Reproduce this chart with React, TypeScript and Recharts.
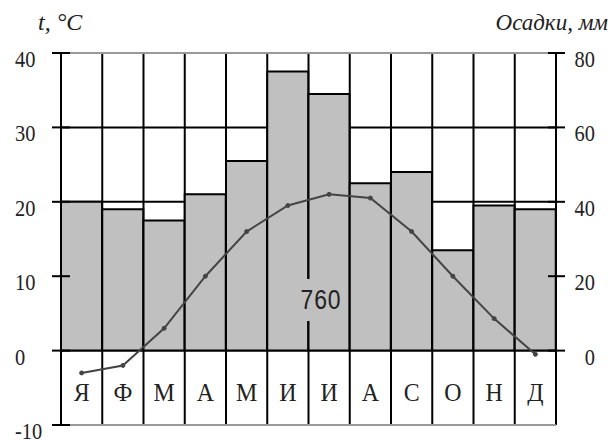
import React from 'react';
import { ComposedChart, Bar, Line, XAxis, YAxis, CartesianGrid, ReferenceLine } from 'recharts';

const months = ['Я', 'Ф', 'М', 'А', 'М', 'И', 'И', 'А', 'С', 'О', 'Н', 'Д'];
const precipitation = [40, 38, 35, 42, 51, 75, 69, 45, 48, 27, 39, 38];
const temperature = [-3, -2, 3, 10, 16, 19.5, 21, 20.5, 16, 10, 4.3, -0.5];
const tempTicks = [-10, 0, 10, 20, 30, 40];
const precipTicks = [0, 20, 40, 60, 80];
const annualTotal = '760';
const tempTitle = 't, °C';
const precipTitle = 'Осадки, мм';

const data = months.map((m, i) => ({
  id: i,
  month: m,
  precip: precipitation[i],
  temp: temperature[i],
}));

const serif = "'Liberation Serif', 'Times New Roman', serif";

// vertical grid lines on month boundaries, derived from the plot area
const monthBoundaries = (props: any) => {
  const off = props.offset;
  const n = months.length;
  const out: number[] = [];
  for (let i = 0; i <= n; i++) out.push(off.left + (off.width * i) / n);
  return out;
};

const LeftTick = (props: any) => {
  const { x, y, payload } = props;
  return (
    <g>
      <line x1={x - 9} x2={x + 9} y1={y} y2={y} stroke="#000" strokeWidth={2} />
      <g transform={`translate(${x - 46},${y + 14}) scale(0.85,1)`}>
        <text x={0} y={0} textAnchor="start" fontFamily={serif} fontSize={24} fill="#222">
          {payload.value}
        </text>
      </g>
    </g>
  );
};

const RightTick = (props: any) => {
  const { x, y, payload } = props;
  return (
    <g>
      <line x1={x - 8} x2={x + 9} y1={y} y2={y} stroke="#000" strokeWidth={2} />
      <g transform={`translate(${x + 39},${y + 14}) scale(0.85,1)`}>
        <text x={0} y={0} textAnchor="end" fontFamily={serif} fontSize={24} fill="#222">
          {payload.value}
        </text>
      </g>
    </g>
  );
};

const MonthTick = (props: any) => {
  const { x, y, payload } = props;
  return (
    <g transform={`translate(${x},${y - 24}) scale(0.92,1)`}>
      <text x={0} y={0} textAnchor="middle" fontFamily={serif} fontSize={26} fill="#222">
        {months[payload.value]}
      </text>
    </g>
  );
};

export default function App() {
  return (
    <div style={{ position: 'absolute', left: 0, top: 0, width: 614, height: 445, background: '#fff' }}>
      <ComposedChart
        width={614}
        height={445}
        data={data}
        margin={{ top: 53, right: 0, bottom: 0, left: 0 }}
        barCategoryGap={0}
      >
        <XAxis
          xAxisId="cat"
          dataKey="id"
          type="category"
          height={20}
          axisLine={false}
          tickLine={false}
          tickSize={0}
          tickMargin={0}
          interval={0}
          tick={<MonthTick />}
        />
        <YAxis
          yAxisId="left"
          orientation="left"
          width={61}
          domain={[-10, 40]}
          ticks={tempTicks}
          interval={0}
          axisLine={false}
          tickLine={false}
          tickSize={0}
          tickMargin={0}
          tick={<LeftTick />}
        />
        <YAxis
          yAxisId="right"
          orientation="right"
          width={58}
          domain={[-20, 80]}
          ticks={precipTicks}
          interval={0}
          axisLine={false}
          tickLine={false}
          tickSize={0}
          tickMargin={0}
          tick={<RightTick />}
        />
        <CartesianGrid
          xAxisId="cat"
          yAxisId="left"
          stroke="#000"
          strokeWidth={2}
          verticalCoordinatesGenerator={monthBoundaries}
        />
        <Bar
          xAxisId="cat"
          yAxisId="right"
          dataKey="precip"
          fill="#c0c0c0"
          stroke="#000"
          strokeWidth={2}
          isAnimationActive={false}
        />
        <ReferenceLine xAxisId="cat" yAxisId="left" y={40} stroke="#999" strokeWidth={2} />
        <ReferenceLine xAxisId="cat" yAxisId="left" y={-10} stroke="#999" strokeWidth={2} />
        <Line
          xAxisId="cat"
          yAxisId="left"
          dataKey="temp"
          type="linear"
          stroke="#444"
          strokeWidth={2}
          dot={{ r: 2, fill: '#444', stroke: '#444', strokeWidth: 1 }}
          isAnimationActive={false}
        />
      </ComposedChart>
      <div
        style={{
          position: 'absolute',
          left: 38,
          top: 10,
          fontFamily: serif,
          fontStyle: 'italic',
          fontSize: 24,
          lineHeight: 1,
          color: '#222',
          whiteSpace: 'pre',
        }}
      >
        {tempTitle}
      </div>
      <div
        style={{
          position: 'absolute',
          right: 6,
          top: 11,
          fontFamily: serif,
          fontStyle: 'italic',
          fontSize: 23,
          lineHeight: 1,
          color: '#222',
          whiteSpace: 'pre',
        }}
      >
        {precipTitle}
      </div>
      <div
        style={{
          position: 'absolute',
          left: 298,
          top: 279,
          width: 46,
          height: 42,
          background: '#c0c0c0',
          display: 'flex',
          alignItems: 'center',
          justifyContent: 'center',
        }}
      >
        <span
          style={{
            fontFamily: "'Liberation Sans', Arial, sans-serif",
            fontSize: 27,
            lineHeight: 1,
            color: '#222',
            display: 'inline-block',
            transform: 'scaleX(0.85)',
            letterSpacing: 1,
          }}
        >
          {annualTotal}
        </span>
      </div>
    </div>
  );
}
